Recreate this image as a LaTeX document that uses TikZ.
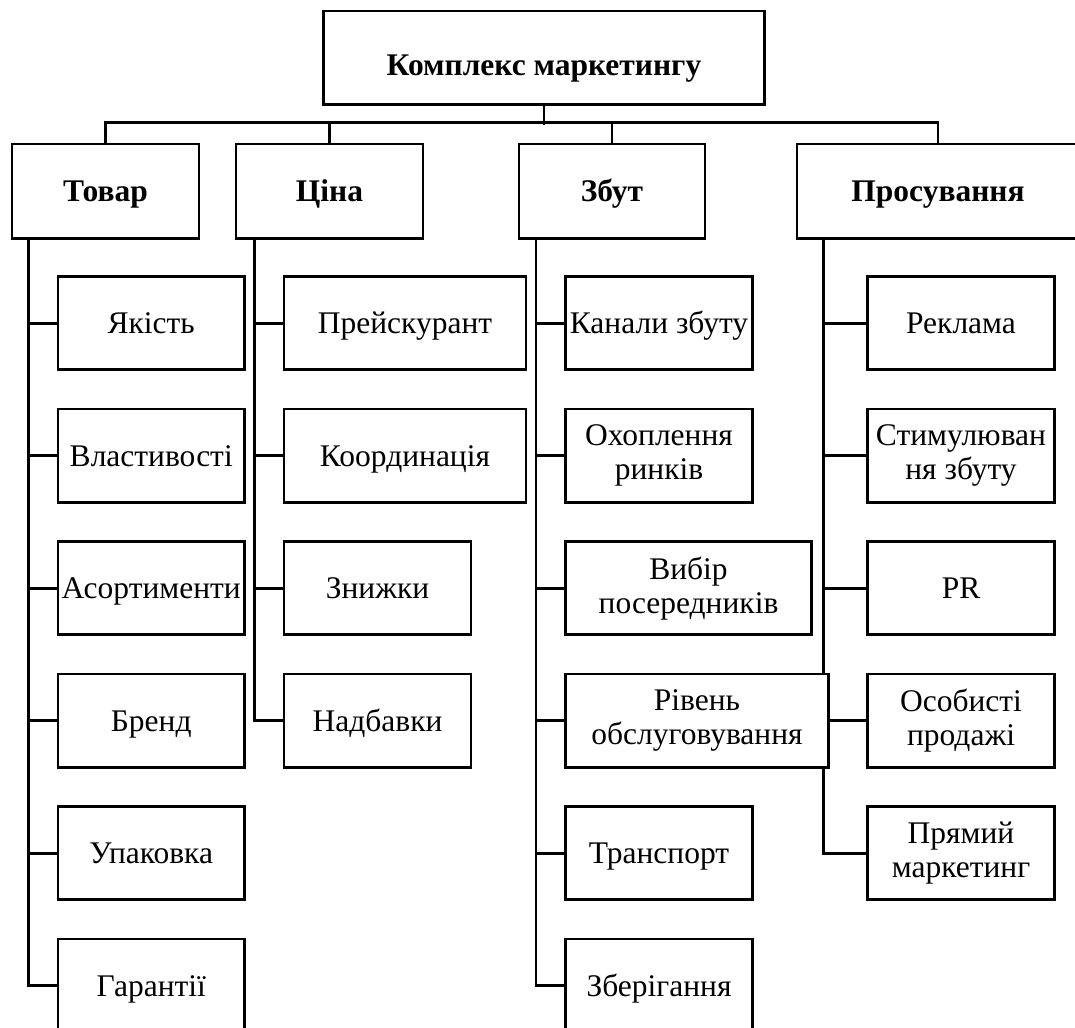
\documentclass[tikz,border=0pt]{standalone}
\usepackage{fontspec}
\setmainfont{Liberation Serif}
\pgfdeclarelayer{bg}
\pgfsetlayers{bg,main}
\tikzset{
  box/.style={draw, line width=2.8pt, fill=white, inner sep=0pt,
    font=\fontsize{31.5}{34}\selectfont},
  one/.style={box, text height=20.6pt, text depth=0pt},
  two/.style={box, align=center},
  head/.style={one, font=\bfseries\fontsize{31.5}{34}\selectfont},
  sz/.style 2 args={minimum width=#1pt, minimum height=#2pt},
  wire/.style={line width=2.8pt},
}
\begin{document}
\begin{tikzpicture}[x=1pt,y=-1pt]
\useasboundingbox (0,0) rectangle (1075,1027);
% top and main groups
\node[head, sz={441}{93.3}, text height=36.6pt] (top) at (544,57.7) {Комплекс маркетингу};
\node[head, sz={187}{94.3}] (tovar)  at (105.5,191.2) {Товар};
\node[head, sz={187}{94.3}] (cina)   at (329.5,191.2) {Ціна};
\node[head, sz={186}{94.3}] (zbut)   at (612,191.2)   {Збут};
\node[head, sz={282}{94.3}] (prosuv) at (938,191.2)   {Просування};
% Товар
\node[one, sz={186.5}{93.3}] (t1) at (151.25,323.2) {Якість};
\node[one, sz={186.5}{93.3}] (t2) at (151.25,455.7) {Властивості};
\node[one, sz={186.5}{93.3}] (t3) at (151.25,588.2) {Асортименти};
\node[one, sz={186.5}{93.3}] (t4) at (151.25,720.7) {Бренд};
\node[one, sz={186.5}{93.3}] (t5) at (151.25,853.2) {Упаковка};
\node[one, sz={186.5}{93.3}] (t6) at (151.25,985.7) {Гарантії};
% Ціна
\node[one, sz={242}{93.3}] (c1) at (405,323.2) {Прейскурант};
\node[one, sz={242}{93.3}] (c2) at (405,455.7) {Координація};
\node[one, sz={187}{93.3}] (c3) at (377.5,588.2) {Знижки};
\node[one, sz={187}{93.3}] (c4) at (377.5,720.7) {Надбавки};
% Збут
\node[one, sz={187}{93.3}] (z1) at (659,323.2) {Канали збуту};
\node[two, sz={187}{93.3}] (z2) at (659,455.7) {Охоплення\\ринків};
\node[two, sz={246}{93.3}] (z3) at (688.5,588.2) {Вибір\\посередників};
\node[one, sz={187}{93.3}] (z5) at (659,853.2) {Транспорт};
\node[one, sz={187}{93.3}] (z6) at (659,985.7) {Зберігання};
% Просування
\node[one, sz={187}{93.3}] (p1) at (961,323.2) {Реклама};
\node[two, sz={187}{93.3}] (p2) at (961,455.7) {Стимулюван\\ня збуту};
\node[one, sz={187}{93.3}] (p3) at (961,588.2) {PR};
\node[two, sz={187}{93.3}] (p4) at (961,720.7) {Особисті\\продажі};
\node[two, sz={187}{93.3}] (p5) at (961,853.2) {Прямий\\маркетинг};
\node[two, sz={262.8}{93.3}] (z4) at (697,720.7) {Рівень\\обслуговування};
\begin{pgfonlayer}{bg}
  \draw[wire] (top.south) -- ++(0,19.7);
  \draw[wire] (tovar.north) -- ++(0,-20) -| (prosuv.north);
  \draw[wire] (cina.north) -- ++(0,-20);
  \draw[wire] (zbut.north) -- ++(0,-20);
  \foreach \c in {t1,t2,t3,t4,t5,t6}
    \draw[wire] ([xshift=18pt]tovar.south west) |- (\c.west);
  \foreach \c in {c1,c2,c3,c4}
    \draw[wire] ([xshift=20pt]cina.south west) |- (\c.west);
  \foreach \c in {z1,z2,z3,z4,z5,z6}
    \draw[wire] ([xshift=18.3pt]zbut.south west) |- (\c.west);
  \foreach \c in {p1,p2,p3,p4,p5}
    \draw[wire] ([xshift=28pt]prosuv.south west) |- (\c.west);
\end{pgfonlayer}
\end{tikzpicture}
\end{document}
